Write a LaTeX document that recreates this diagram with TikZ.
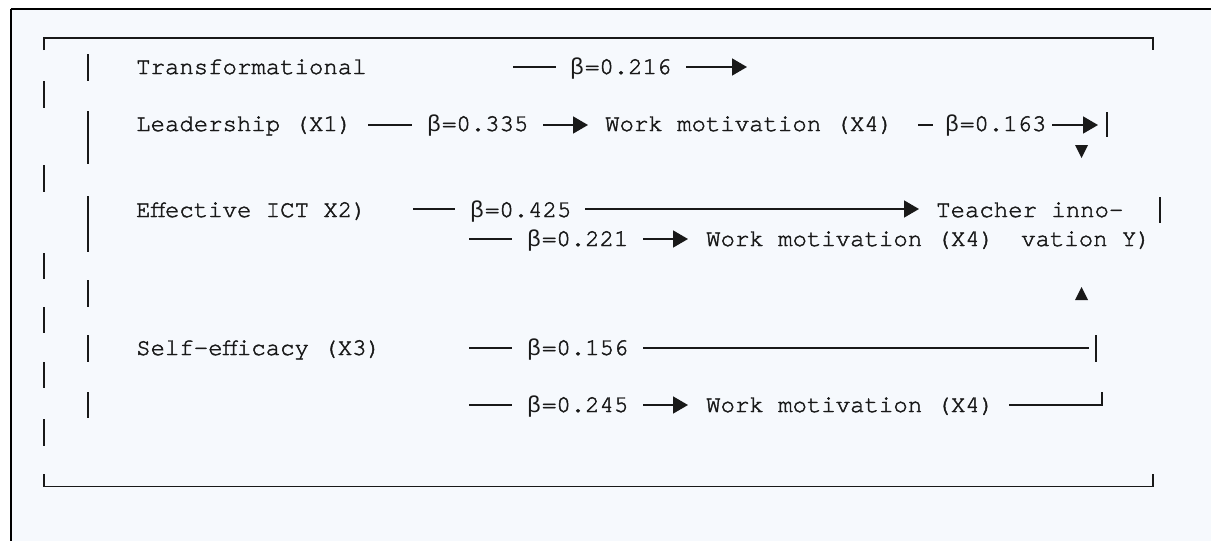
\documentclass[tikz,border=0pt]{standalone}
\usepackage{fontspec}
\setmonofont{TeX Gyre Cursor}
\newfontfamily\grk{Liberation Mono}
\newcommand{\bt}{\special{pdf:literal direct 0 Tr}{\grk\fontsize{23}{28}\selectfont β\kern1pt}\special{pdf:literal direct 2 Tr}}
\newcommand{\heavy}[1]{\special{pdf:literal direct 0.45 w 2 Tr}#1\special{pdf:literal direct 0 Tr}}
\usetikzlibrary{arrows.meta}
\definecolor{bgblue}{RGB}{246,249,253}
\definecolor{ink}{RGB}{25,25,25}
\begin{document}
\begin{tikzpicture}[x=1pt,y=-1pt,
  txt/.style={anchor=base west,inner sep=0pt,font=\ttfamily\fontsize{24}{28}\selectfont,text=ink},
  ln/.style={line width=1.6pt,draw=ink},
  arr/.style={ln,-{Triangle[length=15pt,width=17pt]}},
  bar/.style={line width=1.8pt,draw=ink},
  frameline/.style={line width=1.6pt,draw=ink},
  tri/.style={fill=ink}]
\useasboundingbox (0,0) rectangle (1211,541);
% page background and frame
\fill[white] (0,0) rectangle (1211,541);
\fill[bgblue] (10.5,9) rectangle (1211,541);
\draw[line width=1.6pt] (10.5,9) -- (1211,9);
\draw[line width=2pt] (10.5,9) -- (10.5,541);

% outer box
\coordinate (otl) at (44,38);
\coordinate (otr) at (1153,38);
\coordinate (obl) at (44,486.5);
\coordinate (obr) at (1153,486.5);
\draw[frameline] (44,50) -- (otl) -- (otr) -- (1153,50);
\draw[frameline] (44,474) -- (obl) -- (obr) -- (1153,474);

% outer dashed side bars
\foreach \a/\b in {81/108,165/192,253/279,307/333,362/388,419/446}
  \draw[bar] (44,\a) -- (44,\b);
% inner side bars
\foreach \a/\b in {54/81,111/164,196/252,280/307,335/362,392/418}
  \draw[bar] (88,\a) -- (88,\b);

% texts
\node[txt] (t1) at (136,74) {\heavy{Transformational}};
\node[txt] (b1) at (570,74) {\heavy{\bt=0.216}};
\node[txt] (t2) at (136,131) {\heavy{Leadership (X1)}};
\node[txt] (b2) at (427,131) {\heavy{\bt=0.335}};
\node[txt] (w1) at (605,131) {\heavy{Work motivation (X4)}};
\node[txt] (b3) at (945,131) {\heavy{\bt=0.163}};
\node[txt] (t3) at (136,217) {\heavy{Effective ICT X2)}};
\node[txt] (b4) at (470,217) {\heavy{\bt=0.425}};
\node[txt] (y1) at (936,217) {\heavy{Teacher inno-}};
\node[txt] (b5) at (527,246) {\heavy{\bt=0.221}};
\node[txt] (w2) at (706,246) {\heavy{Work motivation (X4)}};
\node[txt] (y2) at (1021,246) {\heavy{vation Y)}};
\node[txt] (t4) at (136,355) {\heavy{Self-efficacy (X3)}};
\node[txt] (b6) at (527,355) {\heavy{\bt=0.156}};
\node[txt] (b7) at (527,412) {\heavy{\bt=0.245}};
\node[txt] (w3) at (706,412) {\heavy{Work motivation (X4)}};

% row 1
\coordinate (r1a) at (513,67); \coordinate (r1b) at (556,67);
\coordinate (r1c) at (686,67); \coordinate (r1d) at (747,67);
\draw[ln] (r1a) -- (r1b);
\draw[arr] (r1c) -- (r1d);
% row 2
\coordinate (r2a) at (368,125); \coordinate (r2b) at (412,125);
\coordinate (r2c) at (543,125); \coordinate (r2d) at (588,125);
\coordinate (r2e) at (918,125); \coordinate (r2f) at (933,125);
\coordinate (r2g) at (1052,125); \coordinate (r2h) at (1098,125);
\draw[ln] (r2a) -- (r2b);
\draw[arr] (r2c) -- (r2d);
\draw[ln] (r2e) -- (r2f);
\draw[arr] (r2g) -- (r2h);
\draw[bar] (1107,112) -- (1107,137);
\fill[tri] (1075,145) -- (1088,145) -- (1081.5,158) -- cycle;
% row 3
\coordinate (r3a) at (413,209); \coordinate (r3b) at (455,209);
\coordinate (r3c) at (585,209); \coordinate (r3d) at (919,209);
\draw[ln] (r3a) -- (r3b);
\draw[arr] (r3c) -- (r3d);
\draw[bar] (1160,197) -- (1160,223);
% row 4
\coordinate (r4a) at (469,239); \coordinate (r4b) at (512,239);
\coordinate (r4c) at (643,239); \coordinate (r4d) at (688,239);
\draw[ln] (r4a) -- (r4b);
\draw[arr] (r4c) -- (r4d);
\fill[tri] (1075,300) -- (1088,300) -- (1081.5,287) -- cycle;
% row 5
\coordinate (r5a) at (469,348); \coordinate (r5b) at (512,348);
\coordinate (r5c) at (643,348); \coordinate (r5d) at (1089,348);
\draw[ln] (r5a) -- (r5b);
\draw[ln] (r5c) -- (r5d);
\draw[bar] (1096,335) -- (1096,362);
% row 6
\coordinate (r6a) at (469,405); \coordinate (r6b) at (512,405);
\coordinate (r6c) at (643,405); \coordinate (r6d) at (688,405);
\coordinate (r6e) at (1009,405); \coordinate (r6f) at (1102,405);
\draw[ln] (r6a) -- (r6b);
\draw[arr] (r6c) -- (r6d);
\draw[ln] (r6e) -- (r6f) -- (1102,392);
\end{tikzpicture}
\end{document}
